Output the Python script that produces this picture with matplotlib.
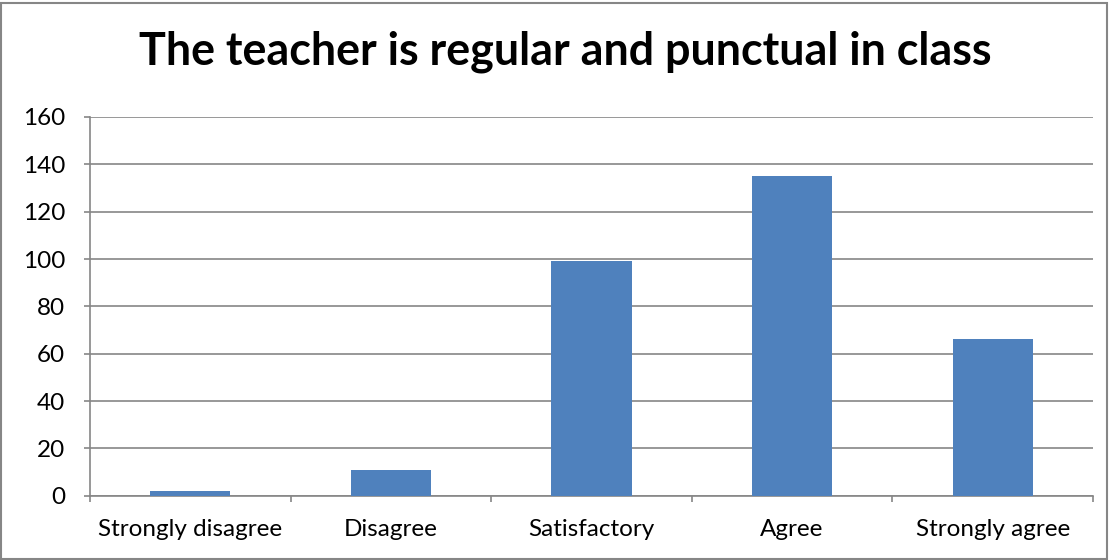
import matplotlib
matplotlib.use("Agg")
import matplotlib.pyplot as plt
from matplotlib.patches import Rectangle

categories = ["Strongly disagree", "Disagree", "Satisfactory", "Agree", "Strongly agree"]
values = [2, 11, 99, 135, 66]
title = "The teacher is regular and punctual in class"

plt.rcParams['font.family'] = ['Lato', 'DejaVu Sans']

fig = plt.figure(figsize=(11.11, 5.6), dpi=100)
ax = fig.add_axes([90/1111, (560-495.7)/560, (1093-90)/1111, (495.7-117)/560])

x = list(range(len(categories)))
ax.bar(x, values, width=0.4, color="#4F81BD", zorder=3)
ax.set_xlim(-0.5, len(categories) - 0.5)
ax.set_ylim(0, 160)
ax.set_yticks(range(0, 161, 20))
ax.grid(axis='y', color="#868686", linewidth=1.2, zorder=0)
ax.set_xticks(x)
ax.set_xticklabels(categories)
ax.set_xticks([i + 0.5 for i in range(-1, len(categories))], minor=True)

for s in ['top', 'right']:
    ax.spines[s].set_visible(False)
for s in ['left', 'bottom']:
    ax.spines[s].set_color("#868686")
    ax.spines[s].set_linewidth(1.2)

ax.tick_params(axis='y', length=4, color="#868686", width=1.2, pad=14, labelsize=17.5)
ax.tick_params(axis='x', which='major', length=0, pad=17, labelsize=17.5)
ax.tick_params(axis='x', which='minor', length=4, color="#868686", width=1.2)

fig.text(565/1111, 1 - 52/560, title, ha='center', va='center', fontsize=32.3, fontweight='bold')

fig.patches.append(Rectangle((1/1111, 1/560), 1106/1111, 556/560, transform=fig.transFigure,
                             fill=False, edgecolor="#868686", linewidth=1.5))

fig.savefig("out.png", dpi=100)
